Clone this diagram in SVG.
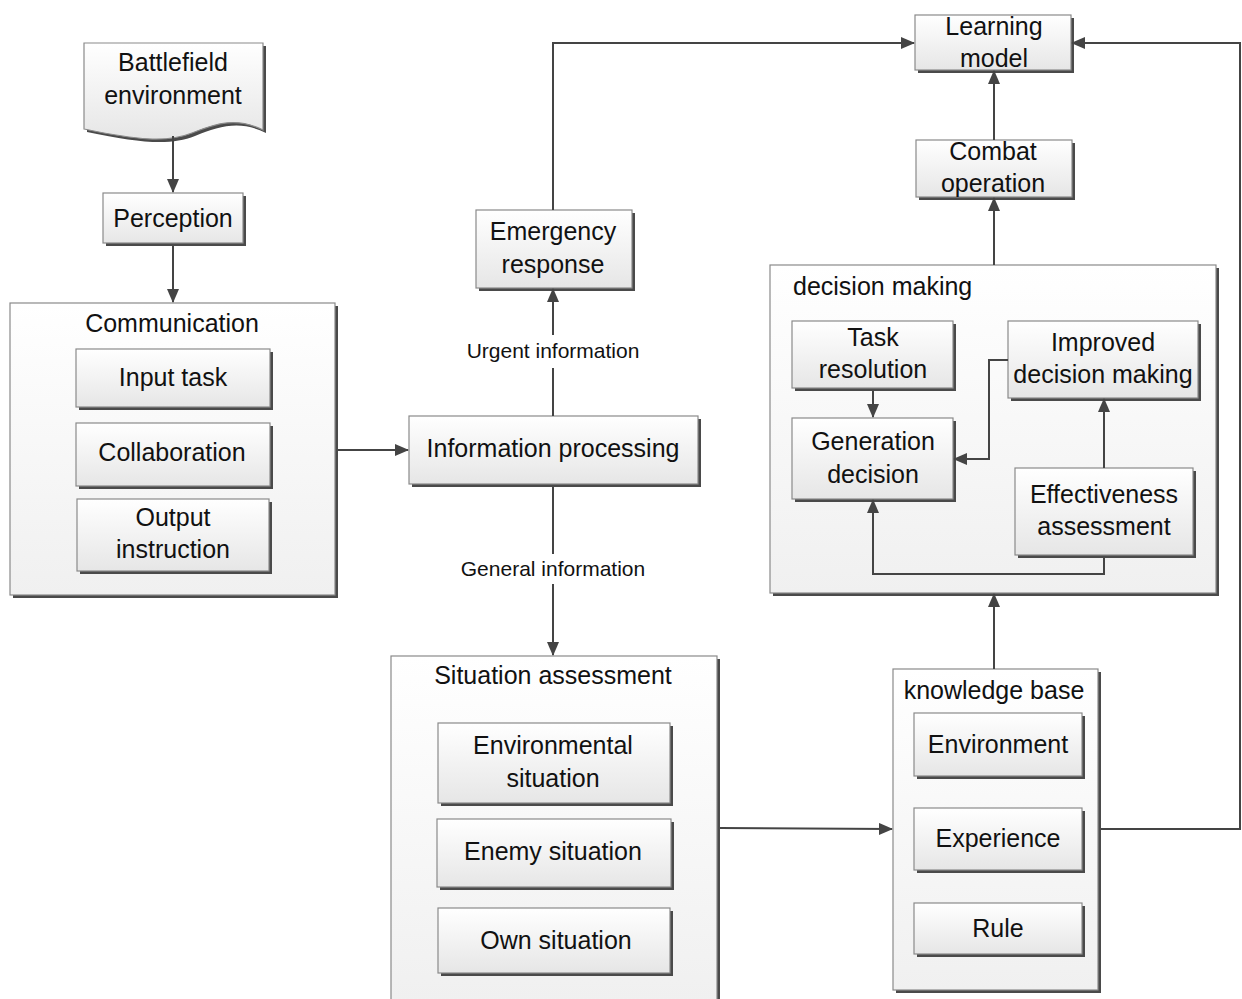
<svg xmlns="http://www.w3.org/2000/svg" width="1242" height="999" viewBox="0 0 1242 999">
<defs>
<linearGradient id="g" x1="0" y1="0" x2="0" y2="1">
<stop offset="0" stop-color="#ffffff"/>
<stop offset="1" stop-color="#e6e6e6"/>
</linearGradient>
<linearGradient id="gc" x1="0" y1="0" x2="0" y2="1">
<stop offset="0" stop-color="#ffffff"/>
<stop offset="1" stop-color="#f0f0f0"/>
</linearGradient>
<marker id="ah" viewBox="0 0 14 12" refX="13" refY="6" markerWidth="14" markerHeight="12" markerUnits="userSpaceOnUse" orient="auto">
<path d="M0,0 L14,6 L0,12 z" fill="#444"/>
</marker>
</defs>
<style>
.b{fill:url(#g);stroke:#8a8a8a;stroke-width:1.2}
.c{fill:url(#gc);stroke:#8a8a8a;stroke-width:1.2}
.s{fill:#4a4a4a}
.t{font-family:"Liberation Sans",Arial,sans-serif;font-size:25px;fill:#111;text-anchor:middle}
.l{font-family:"Liberation Sans",Arial,sans-serif;font-size:21px;fill:#111;text-anchor:middle}
.e{fill:none;stroke:#444;stroke-width:2;marker-end:url(#ah)}
.n{fill:none;stroke:#444;stroke-width:2}
</style>
<rect width="1242" height="999" fill="#fff"/>

<g id="battlefield-environment">
<path class="s" d="M87,46 H266 V133 C240,120 220,126 195,136 C170,146 140,143 87,132 Z"/>
<path d="M84,43 H263 V130 C237,117 217,123 192,133 C167,143 137,140 84,129 Z" fill="url(#g)" stroke="#8a8a8a" stroke-width="1.2"/>
<text class="t" x="173" y="71">Battlefield</text>
<text class="t" x="173" y="104">environment</text>
</g>

<g id="perception">
<rect class="s" x="106" y="196" width="140" height="50"/>
<rect class="b" x="103" y="193" width="140" height="50"/>
<text class="t" x="173" y="227">Perception</text>
</g>

<g id="communication">
<rect class="s" x="13" y="306" width="325" height="292"/>
<rect class="c" x="10" y="303" width="325" height="292"/>
<text class="t" x="172" y="332">Communication</text>
</g>
<g id="input-task">
<rect class="s" x="79" y="352" width="194" height="58"/>
<rect class="b" x="76" y="349" width="194" height="58"/>
<text class="t" x="173" y="386">Input task</text>
</g>
<g id="collaboration">
<rect class="s" x="79" y="426" width="194" height="63"/>
<rect class="b" x="76" y="423" width="194" height="63"/>
<text class="t" x="172" y="461">Collaboration</text>
</g>
<g id="output-instruction">
<rect class="s" x="80" y="502" width="192" height="72"/>
<rect class="b" x="77" y="499" width="192" height="72"/>
<text class="t" x="173" y="526">Output</text>
<text class="t" x="173" y="558">instruction</text>
</g>

<g id="information-processing">
<rect class="s" x="412" y="419" width="289" height="68"/>
<rect class="b" x="409" y="416" width="289" height="68"/>
<text class="t" x="553" y="457">Information processing</text>
</g>

<g id="emergency-response">
<rect class="s" x="479" y="213" width="156" height="78"/>
<rect class="b" x="476" y="210" width="156" height="78"/>
<text class="t" x="553" y="240">Emergency</text>
<text class="t" x="553" y="273">response</text>
</g>

<text class="l" x="553" y="358">Urgent information</text>
<text class="l" x="553" y="576">General information</text>

<g id="learning-model">
<rect class="s" x="918" y="18" width="156" height="55"/>
<rect class="b" x="915" y="15" width="156" height="55"/>
<text class="t" x="994" y="35">Learning</text>
<text class="t" x="994" y="67">model</text>
</g>

<g id="combat-operation">
<rect class="s" x="919" y="143" width="156" height="57"/>
<rect class="b" x="916" y="140" width="156" height="57"/>
<text class="t" x="993" y="160">Combat</text>
<text class="t" x="993" y="192">operation</text>
</g>

<g id="decision-making">
<rect class="s" x="773" y="268" width="446" height="328"/>
<rect class="c" x="770" y="265" width="446" height="328"/>
<text class="t" x="793" y="295" style="text-anchor:start">decision making</text>
</g>
<g id="task-resolution">
<rect class="s" x="795" y="324" width="161" height="67"/>
<rect class="b" x="792" y="321" width="161" height="67"/>
<text class="t" x="873" y="346">Task</text>
<text class="t" x="873" y="378">resolution</text>
</g>
<g id="improved-decision-making">
<rect class="s" x="1011" y="324" width="190" height="77"/>
<rect class="b" x="1008" y="321" width="190" height="77"/>
<text class="t" x="1103" y="351">Improved</text>
<text class="t" x="1103" y="383">decision making</text>
</g>
<g id="generation-decision">
<rect class="s" x="795" y="421" width="161" height="81"/>
<rect class="b" x="792" y="418" width="161" height="81"/>
<text class="t" x="873" y="450">Generation</text>
<text class="t" x="873" y="483">decision</text>
</g>
<g id="effectiveness-assessment">
<rect class="s" x="1018" y="471" width="178" height="87"/>
<rect class="b" x="1015" y="468" width="178" height="87"/>
<text class="t" x="1104" y="503">Effectiveness</text>
<text class="t" x="1104" y="535">assessment</text>
</g>

<g id="situation-assessment">
<rect class="s" x="394" y="659" width="326" height="345"/>
<rect class="c" x="391" y="656" width="326" height="345"/>
<text class="t" x="553" y="684">Situation assessment</text>
</g>
<g id="environmental-situation">
<rect class="s" x="441" y="726" width="232" height="80"/>
<rect class="b" x="438" y="723" width="232" height="80"/>
<text class="t" x="553" y="754">Environmental</text>
<text class="t" x="553" y="787">situation</text>
</g>
<g id="enemy-situation">
<rect class="s" x="440" y="822" width="234" height="68"/>
<rect class="b" x="437" y="819" width="234" height="68"/>
<text class="t" x="553" y="860">Enemy situation</text>
</g>
<g id="own-situation">
<rect class="s" x="441" y="911" width="232" height="65"/>
<rect class="b" x="438" y="908" width="232" height="65"/>
<text class="t" x="556" y="949">Own situation</text>
</g>

<g id="knowledge-base">
<rect class="s" x="896" y="672" width="205" height="321"/>
<rect class="c" x="893" y="669" width="205" height="321"/>
<text class="t" x="994" y="699">knowledge base</text>
</g>
<g id="environment">
<rect class="s" x="917" y="716" width="168" height="63"/>
<rect class="b" x="914" y="713" width="168" height="63"/>
<text class="t" x="998" y="753">Environment</text>
</g>
<g id="experience">
<rect class="s" x="917" y="811" width="168" height="62"/>
<rect class="b" x="914" y="808" width="168" height="62"/>
<text class="t" x="998" y="847">Experience</text>
</g>
<g id="rule">
<rect class="s" x="917" y="906" width="168" height="51"/>
<rect class="b" x="914" y="903" width="168" height="51"/>
<text class="t" x="998" y="937">Rule</text>
</g>

<g id="connectors">
<line class="e" x1="173" y1="136" x2="173" y2="192"/>
<line class="e" x1="173" y1="246" x2="173" y2="302"/>
<line class="e" x1="338" y1="450" x2="408" y2="450"/>
<line class="n" x1="553" y1="416" x2="553" y2="368"/>
<line class="e" x1="553" y1="335" x2="553" y2="289"/>
<polyline class="e" points="553,210 553,43 914,43"/>
<line class="n" x1="553" y1="487" x2="553" y2="554"/>
<line class="e" x1="553" y1="584" x2="553" y2="655"/>
<line class="e" x1="720" y1="828" x2="892" y2="829"/>
<line class="e" x1="994" y1="669" x2="994" y2="594"/>
<line class="e" x1="994" y1="265" x2="994" y2="198"/>
<line class="e" x1="994" y1="140" x2="994" y2="71"/>
<polyline class="e" points="1101,829 1240,829 1240,43 1072,43"/>
<line class="e" x1="873" y1="391" x2="873" y2="417"/>
<polyline class="e" points="1008,360 989,360 989,459 954,459"/>
<line class="e" x1="1104" y1="468" x2="1104" y2="399"/>
<polyline class="e" points="1104,558 1104,574 873,574 873,500"/>
</g>
</svg>
